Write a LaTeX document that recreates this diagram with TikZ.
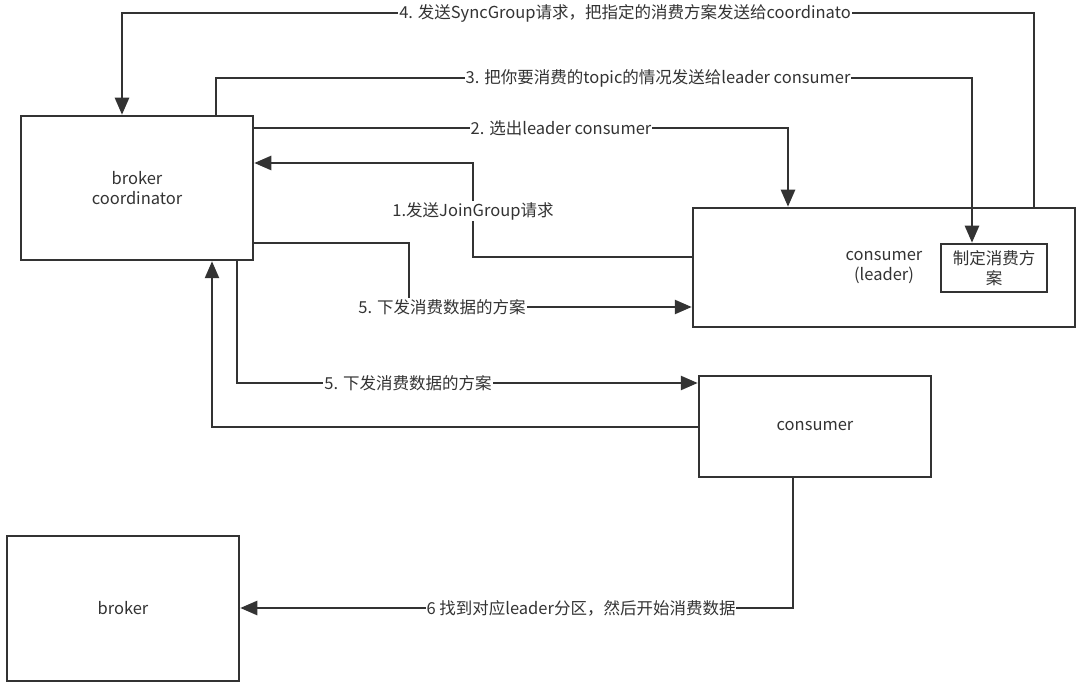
\documentclass[tikz,border=0pt]{standalone}
\usepackage{fontspec}
\setmainfont{Noto Sans CJK SC}
\usetikzlibrary{arrows.meta}
\definecolor{ink}{HTML}{333333}
\tikzset{
  box/.style={draw=ink, line width=2.5pt, fill=white, text=ink, align=center, inner sep=0pt,
    font=\fontsize{16.5}{20}\selectfont},
  conn/.style={draw=ink, line width=2.5pt},
  arr/.style={conn, -{Triangle[length=17pt,width=14pt]}},
  lbl/.style={fill=white, text=ink, inner sep=1pt, font=\fontsize{16.5}{20}\selectfont}
}
\begin{document}
\begin{tikzpicture}[x=1pt,y=-1pt]
\useasboundingbox[fill=white] (0,0) rectangle (1080,687);
% boxes
\node[box, minimum width=232pt, minimum height=144pt] (bc) at (137,188) {broker\\coordinator};
\node[box, minimum width=382pt, minimum height=119pt] (cl) at (884,267.5) {consumer\\(leader)};
\node[box, minimum width=106pt, minimum height=48pt] (plan) at (994,268) {制定消费方\\案};
\node[box, minimum width=232pt, minimum height=101pt] (cons) at (815,426.5) {consumer};
\node[box, minimum width=232pt, minimum height=145pt] (broker) at (123,608.5) {broker};
% bend points
\coordinate (e4a) at (1034,13);
\coordinate (e4b) at (122,13);
\coordinate (e3a) at (216,78);
\coordinate (e3b) at (972,78);
\coordinate (e2a) at (788,128);
\coordinate (e1a) at (473,257);
\coordinate (e1b) at (473,163);
\coordinate (e5a) at (409,243);
\coordinate (e5b) at (409,307);
\coordinate (e5c) at (237,383);
\coordinate (e6a) at (212,427);
\coordinate (e7) at (793,608);
% connectors
\draw[arr] (cl.north -| e4a) -- (e4a) -- (e4b) -- (bc.north -| e4b);
\draw[arr] (bc.north -| e3a) -- (e3a) -- (e3b) -- (plan.north -| e3b);
\draw[arr] (bc.east |- e2a) -- (e2a) -- (cl.north -| e2a);
\draw[arr] (cl.west |- e1a) -- (e1a) -- (e1b) -- (bc.east |- e1b);
\draw[arr] (bc.east |- e5a) -- (e5a) -- (e5b) -- (cl.west |- e5b);
\draw[arr] (bc.south -| e5c) -- (e5c) -- (cons.west |- e5c);
\draw[arr] (cons.west |- e6a) -- (e6a) -- (bc.south -| e6a);
\draw[arr] (cons.south -| e7) -- (e7) -- (broker.east |- e7);
% labels
\node[lbl] (l4) at (625,13) {4. 发送SyncGroup请求，把指定的消费方案发送给coordinato};
\node[lbl] (l3) at (658,78) {3. 把你要消费的topic的情况发送给leader consumer};
\node[lbl] (l2) at (561,128) {2. 选出leader consumer};
\node[lbl] (l1) at (473,211) {1.发送JoinGroup请求};
\node[lbl] (l5a) at (442,307) {5. 下发消费数据的方案};
\node[lbl] (l5b) at (408,383) {5. 下发消费数据的方案};
\node[lbl] (l6) at (581,608) {6 找到对应leader分区，然后开始消费数据};
\end{tikzpicture}
\end{document}
